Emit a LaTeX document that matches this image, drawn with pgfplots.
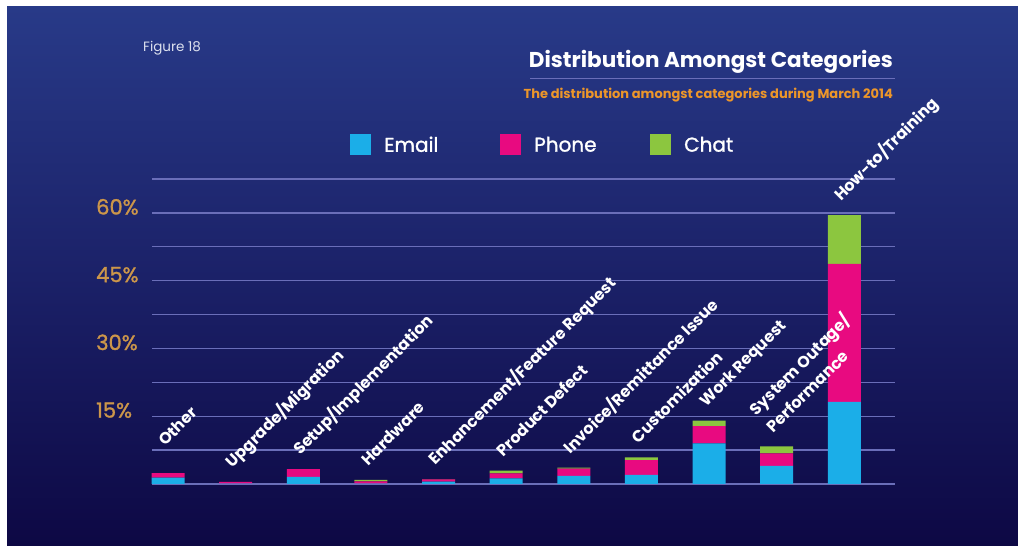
\documentclass[border=0pt]{standalone}
\usepackage{pgfplots}
\pgfplotsset{compat=1.18}
\usepackage{fontspec}
\setmainfont{Poppins}
\newfontfamily\popmed[FakeBold=1.3]{Poppins}
\definecolor{emailc}{RGB}{27,174,232}
\definecolor{phonec}{RGB}{232,10,128}
\definecolor{chatc}{RGB}{140,198,63}
\definecolor{gridc}{RGB}{106,110,185}
\definecolor{tanc}{RGB}{204,150,74}
\definecolor{orangec}{RGB}{236,150,42}
\definecolor{bgtop}{RGB}{40,58,136}
\definecolor{bgmid}{RGB}{27,33,104}
\definecolor{bgbot}{RGB}{13,8,68}
\protected\def\sotwo{\vbox{\baselineskip=24pt\hbox{System Outage/}\hbox{Performance}}}
\protected\def\otherlab{\hspace*{9.2pt}\raisebox{9.2pt}{Other}}
\begin{document}
\begin{tikzpicture}[x=1pt,y=1pt]
\fill[white] (0,0) rectangle (1018,546);
\shade[top color=bgtop, bottom color=bgbot, middle color=bgmid] (7,0) rectangle (1018,539);
\node[anchor=base west, inner sep=0pt, text={rgb,255:red,220;green,224;blue,238}, font=\fontsize{13.5}{16}\selectfont] at (143,494) {Figure 18};
\node[anchor=base east, inner sep=0pt, text=white, font=\fontsize{21.5}{26}\selectfont\bfseries] at (893,478.5) {Distribution Amongst Categories};
\draw[gridc, line width=1.5pt] (530,467.7) -- (895,467.7);
\node[anchor=base east, inner sep=0pt, text=orangec, font=\fontsize{13}{16}\selectfont\bfseries] at (893,447.7) {The distribution amongst categories during March 2014};
\begin{axis}[
  at={(152pt,62pt)}, anchor=south west, scale only axis,
  width=743pt, height=305pt,
  xmin=-0.237, xmax=10.75, ymin=0, ymax=67.5,
  ybar stacked, bar width=33pt,
  axis line style={draw=none},
  tick style={draw=none},
  xtick=\empty,
  ytick={0,7.5,15,22.5,30,37.5,45,52.5,60,67.5},
  yticklabels={,,15\%,,30\%,,45\%,,60\%,},
  yticklabel style={anchor=west, inner sep=0pt, xshift=-56pt, yshift=6pt, text=tanc, font=\fontsize{21}{25}\popmed},
  ymajorgrids, grid style={gridc, line width=1.3pt},
  clip=false,
  legend columns=3,
  legend cell align=left,
  legend image code/.code={\fill[#1] (0pt,-10.5pt) rectangle (21pt,10.5pt);},
  legend style={at={(0.2665,1.1115)}, anchor=west, draw=none, fill=none, inner sep=0pt,
    text=white, font=\fontsize{20}{24}\popmed,
    /tikz/every odd column/.append style={column sep=13pt},
    nodes={text width=116pt, inner sep=0pt}},
]
\addplot[fill=emailc, draw=none] coordinates {(0,1.4) (1,0.1) (2,1.6) (3,0.1) (4,0.5) (5,1.25) (6,1.8) (7,2.0) (8,9.0) (9,4.0) (10,18.2)};
\addplot[fill=phonec, draw=none] coordinates {(0,1.0) (1,0.35) (2,1.7) (3,0.5) (4,0.5) (5,1.1) (6,1.6) (7,3.3) (8,3.8) (9,2.8) (10,30.5)};
\addplot[fill=chatc, draw=none] coordinates {(0,0) (1,0) (2,0) (3,0.3) (4,0.1) (5,0.6) (6,0.2) (7,0.6) (8,1.2) (9,1.5) (10,10.8)};
\addplot[draw=none, fill=none, nodes near coords, point meta=explicit symbolic,
  every node near coord/.append style={xshift=-3pt, yshift=13pt, rotate=45, anchor=base west, inner sep=0pt, text=white, font=\fontsize{16}{20}\selectfont\bfseries}]
  coordinates {(0,0.001) [\otherlab] (1,0.001) [Upgrade/Migration] (2,0.001) [Setup/Implementation] (3,0.001) [Hardware] (4,0.001) [Enhancement/Feature Request] (5,0.001) [Product Defect] (6,0.001) [Invoice/Remittance Issue] (7,0.001) [Customization] (8,0.001) [Work Request] (9,0.001) [\sotwo] (10,0.001) [How-to/Training]};
\legend{Email,Phone,Chat}
\end{axis}
\pgfresetboundingbox
\path (0,0) rectangle (1018,546);
\end{tikzpicture}
\end{document}
